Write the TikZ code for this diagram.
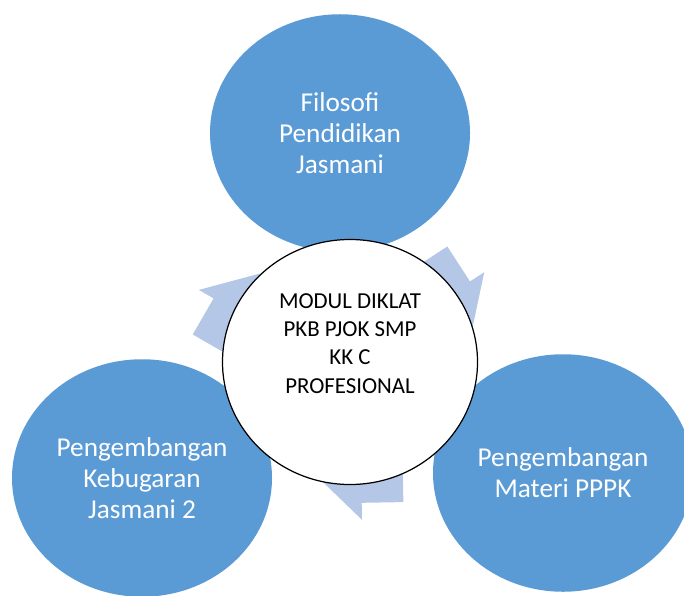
\documentclass[tikz,border=0pt]{standalone}
\usepackage{fontspec}
\setmainfont{Carlito}
\usetikzlibrary{shapes.geometric,shapes.arrows,calc,backgrounds}
\definecolor{cycleblue}{HTML}{5B9BD5}
\definecolor{arrowblue}{HTML}{B4C7E7}

\tikzset{
  topic/.style={ellipse,fill=cycleblue,minimum width=52mm,minimum height=47.5mm,
    inner sep=0pt,text=white,align=center,font=\fontsize{15.5}{17.5}\selectfont},
  hubring/.style={ellipse,draw=black,line width=0.7pt,fill=white,
    minimum width=51mm,minimum height=49mm,inner sep=0pt},
  cyclearrow/.style={single arrow,fill=arrowblue,minimum height=17.2mm,
    inner xsep=0pt,inner ysep=5.4mm,single arrow head extend=3.4mm}
}

\begin{document}
\begin{tikzpicture}[x=0.2mm,y=0.2mm]
  \useasboundingbox (0,0) rectangle (684,595);
  % the three topics
  \node[topic] (filosofi) at (340,462) {Filosofi\\Pendidikan\\Jasmani};
  \node[topic] (materi) at (563,122) {Pengembangan\\Materi PPPK};
  \node[topic] (kebugaran) at (142,117) {Pengembangan\\Kebugaran\\Jasmani 2};
  % cycle arrows behind the circles
  \begin{scope}[on background layer]
    \node[cyclearrow,rotate=-57] (a1) at ($(filosofi)!0.45!(materi)$) {};
    \node[cyclearrow,rotate=181] (a2) at ($(materi)!0.45!(kebugaran)$) {};
    \node[cyclearrow,rotate=60] (a3) at ($(kebugaran)!0.45!(filosofi)$) {};
  \end{scope}
  % centre
  \node[hubring] (modul) at (350,233) {};
  \node[align=center,font=\fontsize{13}{16}\selectfont] (modultext) at ($(modul)+(0,18.5)$)
    {MODUL DIKLAT\\PKB PJOK SMP\\KK C\\PROFESIONAL};
\end{tikzpicture}
\end{document}
